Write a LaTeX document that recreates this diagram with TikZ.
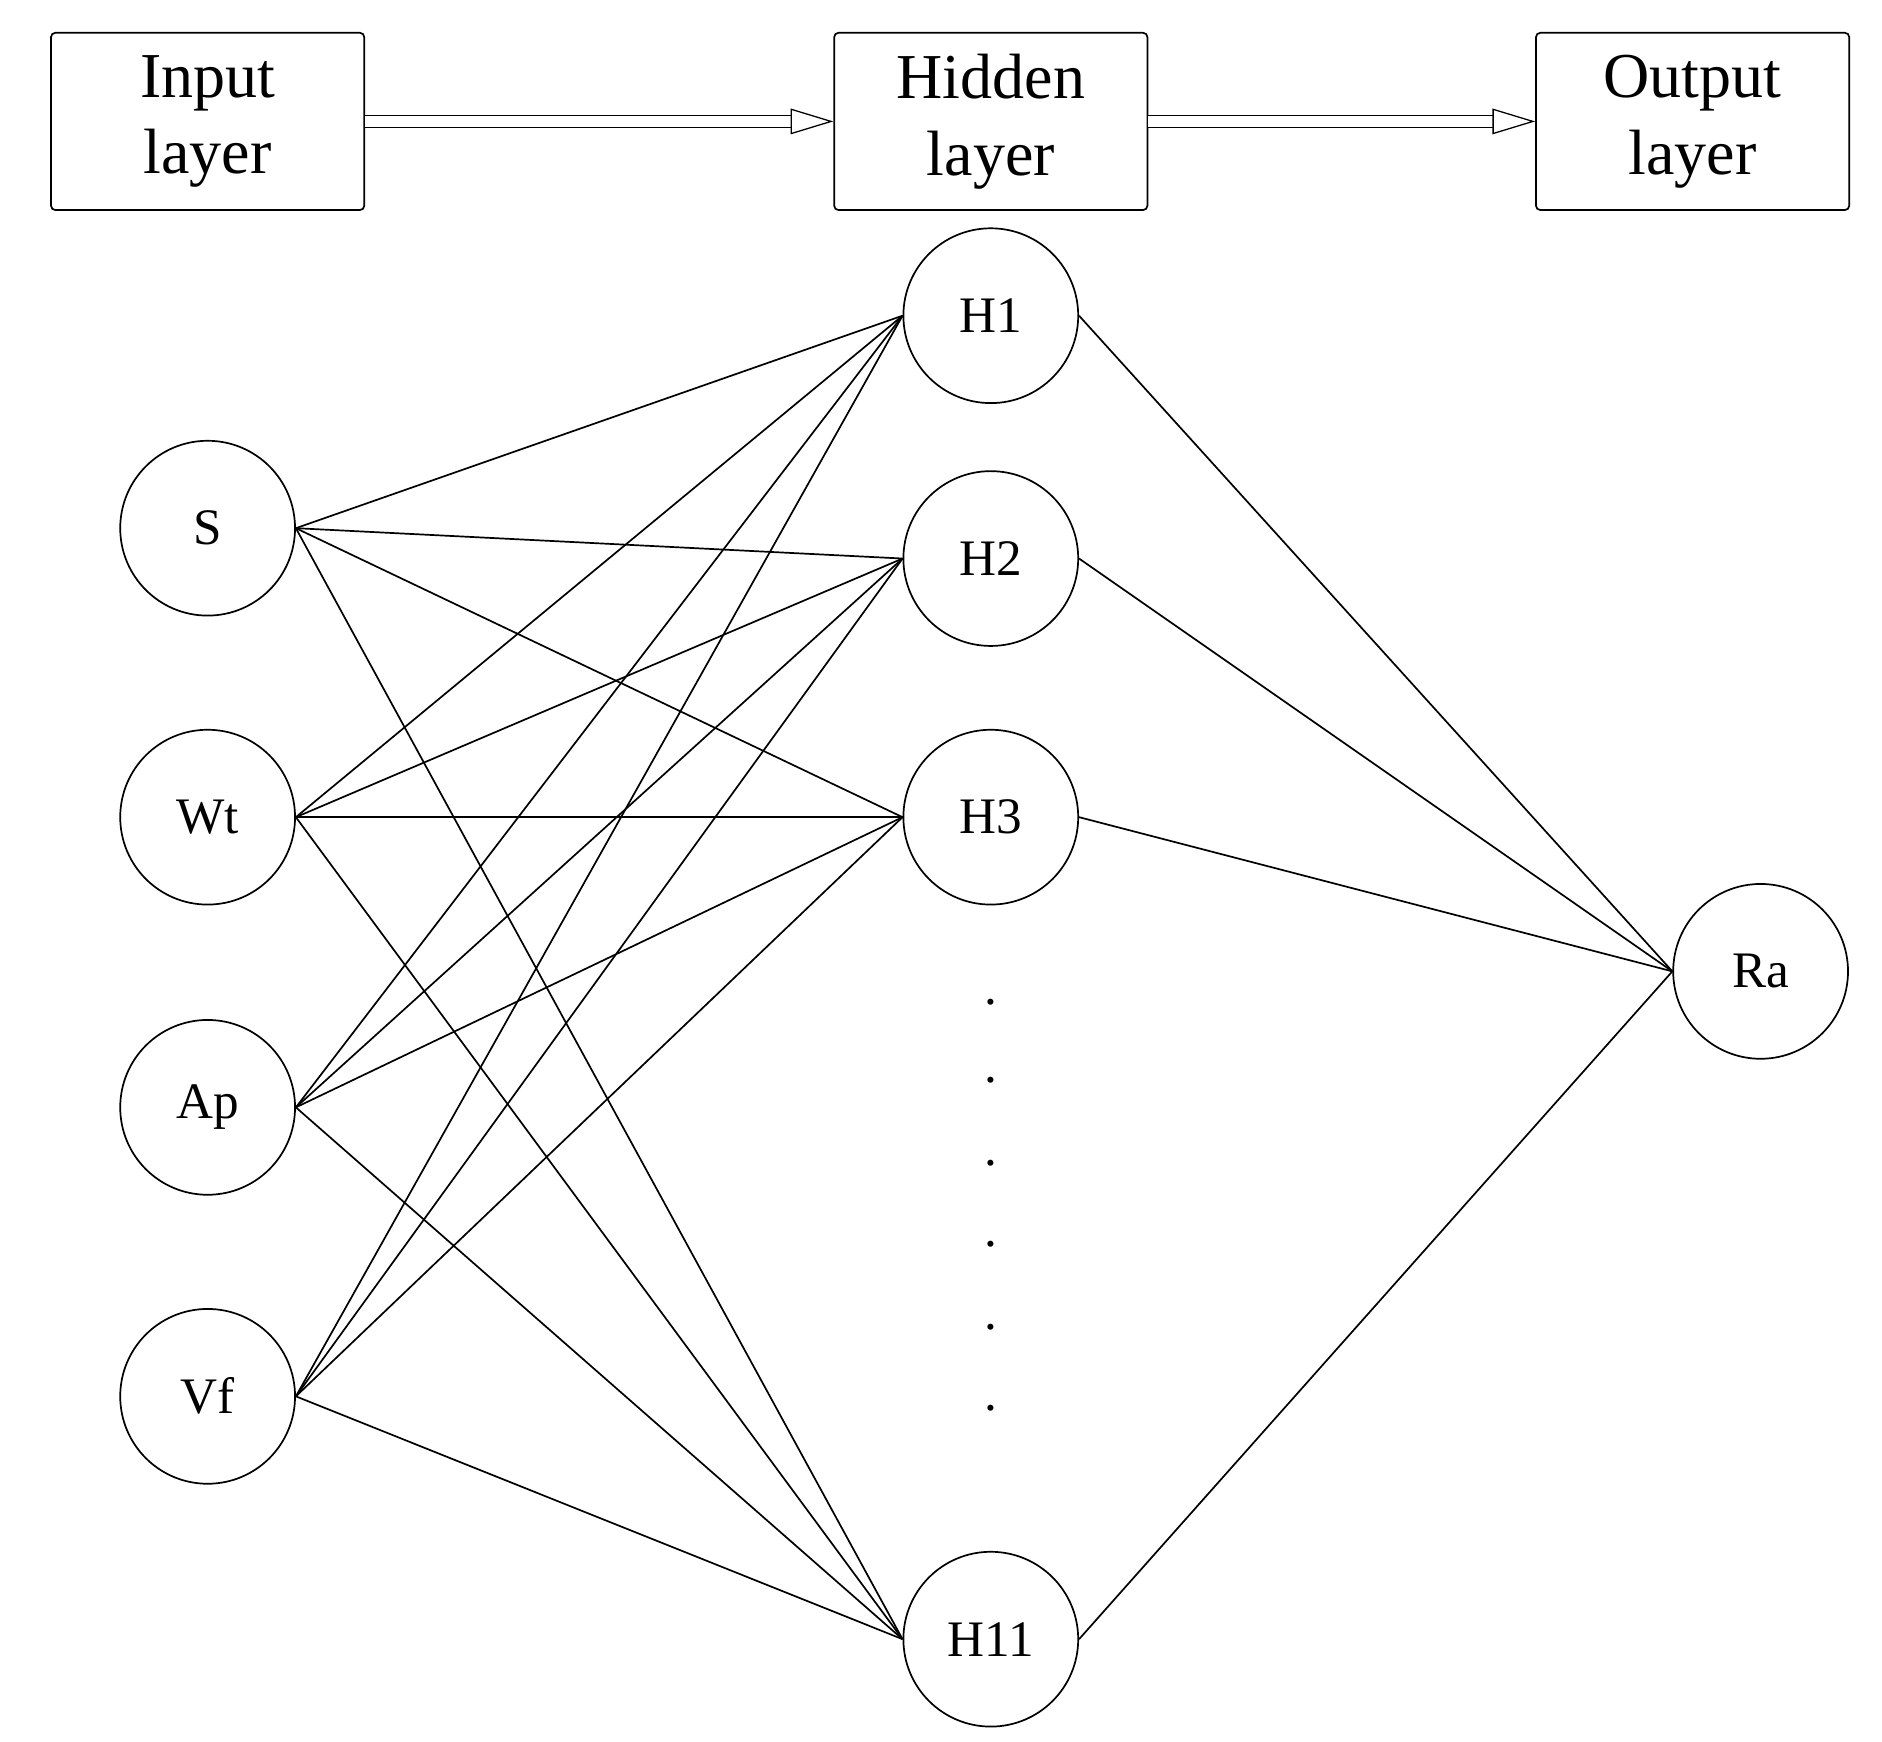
\documentclass[tikz,border=0pt]{standalone}
\usepackage{fontspec}
\setmainfont{Liberation Serif}
\usetikzlibrary{arrows.meta}
\begin{document}
\begin{tikzpicture}[x=0.02cm,y=-0.02cm,line width=0.8pt,
  layer/.style={draw,rounded corners=2pt,minimum width=5.16cm,minimum height=2.92cm,align=center,font=\fontsize{30}{36}\selectfont,inner sep=0pt},
  neuron/.style={draw,circle,minimum size=2.88cm,font=\fontsize{24}{26}\selectfont},
  flow/.style={double,double distance=5pt,line width=0.6pt,-{Triangle[open,length=20pt,width=12pt]}}]
 \useasboundingbox (0,0) rectangle (1550,1434);

 \node[layer] (in) at (171,100) {Input\\layer};
 \node[layer] (hid) at (816,100) {Hidden\\layer};
 \node[layer] (out) at (1394,100) {Output\\layer};

 \node[neuron] (s) at (171,435) {S};
 \node[neuron] (wt) at (171,673) {Wt};
 \node[neuron] (ap) at (171,912) {Ap};
 \node[neuron] (vf) at (171,1150) {Vf};

 \node[neuron] (h1) at (816,260) {H1};
 \node[neuron] (h2) at (816,460) {H2};
 \node[neuron] (h3) at (816,673) {H3};
 \node[neuron] (h11) at (816,1350) {H11};

 \node[neuron] (ra) at (1450,800) {Ra};

 \foreach \y [count=\i] in {825,890,958,1025,1093,1160}
  \node[font=\fontsize{24}{26}\selectfont] (dot\i) at (816,\y) {.};

 \draw[flow] (in) -- (hid);
 \draw[flow] (hid) -- (out);

 \foreach \a in {s,wt,ap,vf}
  \foreach \b in {h1,h2,h3,h11}
   \draw (\a.east) -- (\b.west);

 \foreach \b in {h1,h2,h3,h11}
  \draw (\b.east) -- (ra.west);

\end{tikzpicture}
\end{document}
